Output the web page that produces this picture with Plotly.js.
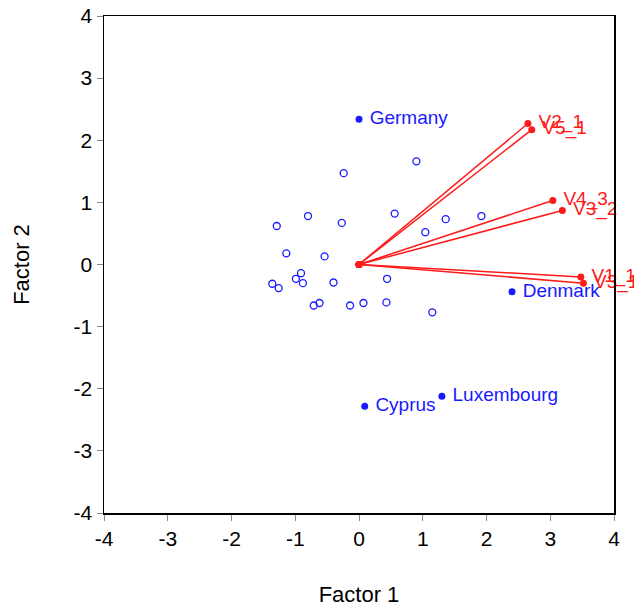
<!DOCTYPE html>
<html>
<head>
<meta charset="utf-8">
<script src="https://cdn.plot.ly/plotly-3.0.1.min.js"></script>
<style>
  html, body { margin: 0; padding: 0; background: #fff; }
  #chart { width: 634px; height: 610px; }
</style>
</head>
<body>
<div id="chart"></div>
<script>
// Unlabelled observations (open circles)
const obsX = [0.90, -0.24, 0.56, 1.36, -0.80, -1.29, -0.27, 1.04, -1.14, -0.54, -0.91, -0.99, -0.88, -1.36, -1.26, -0.40, 0.44, -0.71, -0.62, -0.14, 0.07, 0.43, 1.15, 1.92];
const obsY = [1.66, 1.47, 0.82, 0.73, 0.78, 0.62, 0.67, 0.52, 0.18, 0.13, -0.14, -0.23, -0.30, -0.31, -0.38, -0.29, -0.23, -0.66, -0.62, -0.66, -0.62, -0.61, -0.77, 0.78];

// Labelled observations (filled dots)
const namedLabels = ["Germany", "Denmark", "Cyprus", "Luxembourg"];
const namedX = [0.00, 2.40, 0.09, 1.30];
const namedY = [2.34, -0.44, -2.28, -2.12];

// Variable loading vectors
const varLabels = ["V2_1", "V5_1", "V4_3", "V3_2", "V1_1", "V3_1"];
const varX = [2.65, 2.71, 3.04, 3.19, 3.48, 3.52];
const varY = [2.27, 2.17, 1.03, 0.87, -0.20, -0.30];

const tickVals = [-4, -3, -2, -1, 0, 1, 2, 3, 4];

const FONT = 'Liberation Sans, Arial, sans-serif';
const traces = [];

traces.push({
  x: obsX, y: obsY, type: 'scatter', mode: 'markers',
  marker: { symbol: 'circle-open', size: 7, color: '#1a1aff', line: { width: 1.3, color: '#1a1aff' } },
  hoverinfo: 'x+y', showlegend: false
});

traces.push({
  x: namedX, y: namedY, type: 'scatter', mode: 'markers+text',
  text: namedLabels.map(s => ' ' + s), textposition: 'middle right',
  textfont: { family: FONT, size: 19, color: '#1a1aff' },
  marker: { symbol: 'circle', size: 7, color: '#1a1aff' },
  cliponaxis: false, showlegend: false
});

for (let i = 0; i < varLabels.length; i++) {
  traces.push({
    x: [0, varX[i]], y: [0, varY[i]], type: 'scatter', mode: 'lines+markers+text',
    text: ['', ' ' + varLabels[i]], textposition: 'middle right',
    textfont: { family: FONT, size: 19, color: '#ff1a1a' },
    line: { color: '#ff1a1a', width: 1.5 },
    marker: { symbol: 'circle', size: 7, color: '#ff1a1a' },
    cliponaxis: false, name: varLabels[i], showlegend: false
  });
}

const axisCommon = {
  range: [-4, 4], tickvals: tickVals, ticktext: tickVals.map(String),
  showgrid: false, zeroline: false, showline: true, linecolor: '#000', linewidth: 1.5,
  mirror: true, ticks: 'outside', ticklen: 6, tickcolor: '#888', tickwidth: 1,
  tickfont: { family: FONT, size: 21, color: '#000' }
};

const layout = {
  width: 634, height: 610,
  margin: { l: 104, r: 20, t: 16, b: 97 },
  paper_bgcolor: '#fff', plot_bgcolor: '#fff',
  showlegend: false,
  xaxis: Object.assign({}, axisCommon, {
    title: { text: 'Factor 1', font: { family: FONT, size: 22, color: '#000' }, standoff: 38 }
  }),
  yaxis: Object.assign({}, axisCommon, {
    title: { text: 'Factor 2', font: { family: FONT, size: 22, color: '#000' }, standoff: 38 }
  })
};

Plotly.newPlot('chart', traces, layout, { displayModeBar: false, staticPlot: true });
</script>
</body>
</html>
